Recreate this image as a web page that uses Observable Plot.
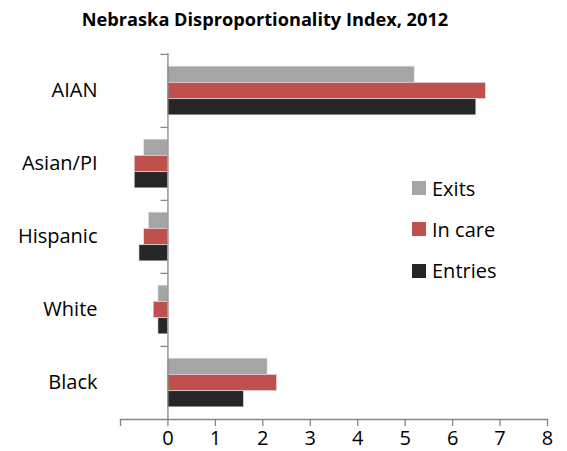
<!DOCTYPE html>
<html><head><meta charset="utf-8">
<script src="https://cdn.jsdelivr.net/npm/d3@7"></script>
<script src="https://cdn.jsdelivr.net/npm/@observablehq/plot@0.6"></script>
<style>
body{margin:0;background:#fff;font-family:"Open Sans",sans-serif;}
#wrap{position:relative;width:567px;height:451px;overflow:hidden}
#title{position:absolute;left:0;top:7px;width:530px;text-align:center;font-weight:bold;font-size:18.2px;color:#000;line-height:24px}
#chart{position:absolute;left:0;top:40px}
#legend{position:absolute;left:412px;top:181px;font-size:20px;color:#000}
.item{display:flex;align-items:center;height:14px;margin-bottom:27.3px}
.sw{width:14px;height:14px;margin-right:6px;flex:none}
</style></head>
<body>
<div id="wrap">
  <div id="title">Nebraska Disproportionality Index, 2012</div>
  <div id="chart"></div>
  <div id="legend"></div>
</div>
<script>
const categories = ["AIAN", "Asian/PI", "Hispanic", "White", "Black"];
const series = ["Exits", "In care", "Entries"];
const exits = [5.2, -0.5, -0.4, -0.2, 2.1];
const inCare = [6.7, -0.7, -0.5, -0.3, 2.3];
const entries = [6.5, -0.7, -0.6, -0.2, 1.6];
const xTicks = [-1, 0, 1, 2, 3, 4, 5, 6, 7, 8];
const colors = ["#a5a5a5", "#c0504d", "#262626"];

const values = [exits, inCare, entries];
const barH = 16.3;
const band = 73.2;
const inset = (band - barH) / 2;
const axisColor = "#868686";

const barMarks = series.map((s, i) =>
  Plot.barX(categories.map((c, j) => ({category: c, series: s, value: values[i][j]})), {
    x1: () => 0,
    x2: "value",
    y: "category",
    fill: colors[i],
    stroke: "#e0e0e0",
    strokeWidth: 0.6,
    insetTop: inset,
    insetBottom: inset,
    dy: (i - 1) * barH
  })
);

const chart = Plot.plot({
  width: 567,
  height: 411,
  marginLeft: 120,
  marginRight: 20,
  marginTop: 13,
  marginBottom: 32,
  style: {fontFamily: "'Open Sans', sans-serif", background: "white"},
  x: {domain: [-1, 8]},
  y: {domain: categories, padding: 0},
  marks: [
    ...barMarks,
    Plot.ruleX([0], {stroke: axisColor, strokeWidth: 1.3}),
    Plot.ruleY(categories, {y: d => d, x1: () => 0, x2: () => 0, insetLeft: -7, dy: -band / 2, stroke: axisColor, strokeWidth: 1.3}),
    Plot.frame({anchor: "bottom", stroke: axisColor, strokeWidth: 1.3}),
    Plot.axisX({ticks: xTicks, tickSize: 7, tickPadding: 4, tickFormat: d => d < 0 ? "" : String(d), fontSize: 20, stroke: axisColor, strokeWidth: 1.3, fill: "#000", label: null}),
    Plot.axisY({tickSize: 0, tickPadding: 23, fontSize: 20, fill: "#000", label: null})
  ]
});
document.getElementById("chart").appendChild(chart);

const legend = document.getElementById("legend");
series.forEach((s, i) => {
  const item = document.createElement("div");
  item.className = "item";
  const sw = document.createElement("div");
  sw.className = "sw";
  sw.style.background = colors[i];
  const t = document.createElement("span");
  t.textContent = s;
  item.appendChild(sw);
  item.appendChild(t);
  legend.appendChild(item);
});
</script>
</body></html>
